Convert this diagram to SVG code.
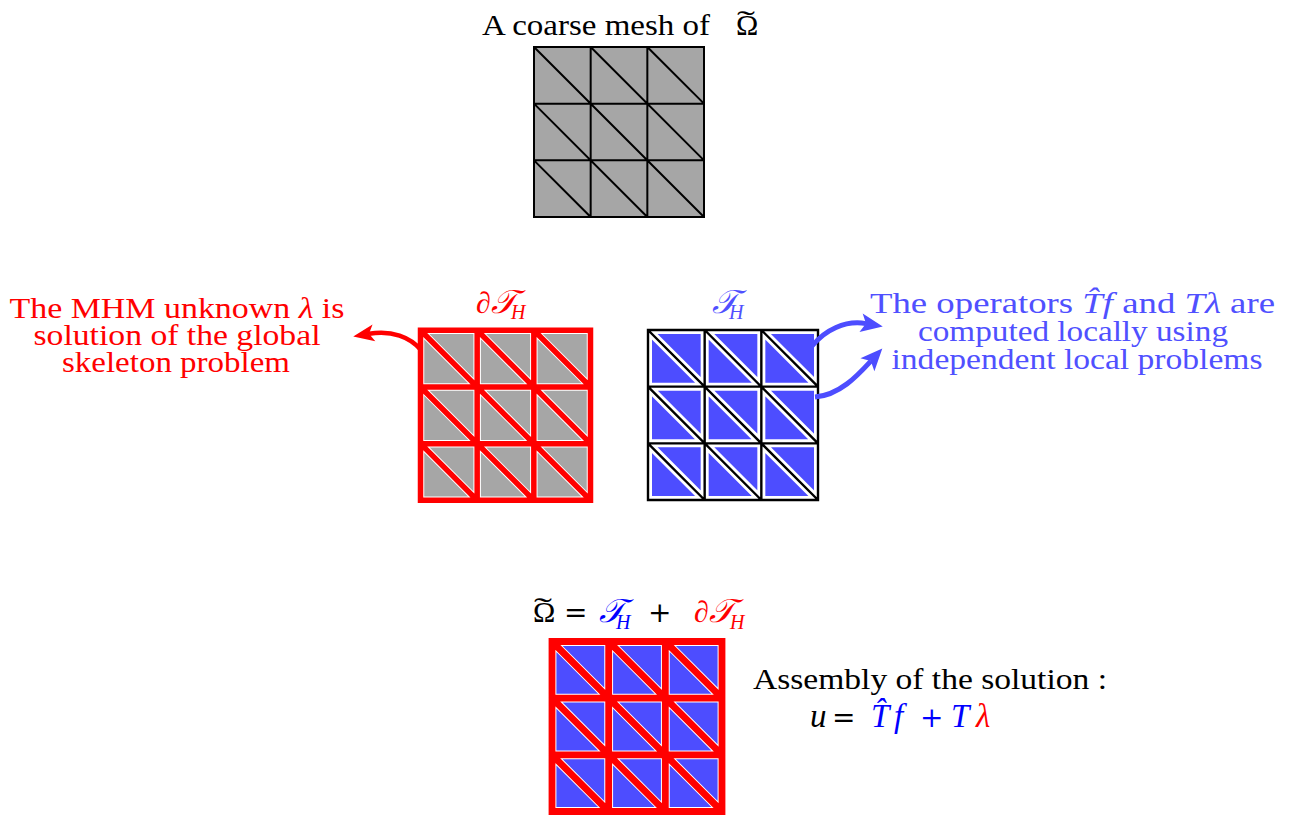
<svg xmlns="http://www.w3.org/2000/svg" width="1293" height="821" viewBox="0 0 1293 821">
<style>
text{font-family:"Liberation Serif",serif;font-size:30px;fill:#000}
.it{font-style:italic}
.red{fill:#ff0000}
.lb{fill:#5050ff}
.bl{fill:#0000ff}
.sub{font-size:20px}
.cal{font-size:33px;font-style:italic}
.op{font-family:"DejaVu Serif",serif;font-size:28px}
text.eq{font-size:33px}
.gk{fill:none;stroke:#000;stroke-width:2}
.w1{fill:none;stroke:#fff;stroke-width:7.5}
.r1{fill:none;stroke:#ff0000;stroke-width:5.5}
.w2{fill:none;stroke:#fff;stroke-width:8}
.k2{fill:none;stroke:#000;stroke-width:2.4}
.w3{fill:none;stroke:#fff;stroke-width:8.8}
.r3{fill:none;stroke:#ff0000;stroke-width:6.8}
.gray{fill:#a6a6a6}
.blue{fill:#4d4dff}
.arr-r{fill:none;stroke:#ff0000;stroke-width:4.5}
.arr-b{fill:none;stroke:#4d4dff;stroke-width:5}
</style>
<defs>
<path id="grid" d="M0,0H170V170H0Z M56.667,0V170 M113.333,0V170 M0,56.667H170 M0,113.333H170 M0,0L170,170 M56.667,0L170,113.333 M113.333,0L170,56.667 M0,56.667L113.333,170 M0,113.333L56.667,170"/>
<marker id="ahr" viewBox="-8 -10 26 20" refX="0" refY="0" markerWidth="26" markerHeight="20" markerUnits="userSpaceOnUse" orient="auto"><path d="M16,0 L-5,-8.5 L0,0 L-5,8.5 Z" fill="#ff0000"/></marker>
<marker id="ahb" viewBox="-8 -11 28 22" refX="0" refY="0" markerWidth="28" markerHeight="22" markerUnits="userSpaceOnUse" orient="auto"><path d="M17,0 L-5,-9.5 L0,0 L-5,9.5 Z" fill="#4d4dff"/></marker>
</defs>

<g id="coarse-mesh">
<text x="482" y="35" textLength="228" lengthAdjust="spacingAndGlyphs">A coarse mesh of</text>
<text x="736" y="35">Ω</text>
<text x="737" y="31" textLength="18" lengthAdjust="spacingAndGlyphs">˜</text>
<g transform="translate(534,47)"><rect width="170" height="170" class="gray"/><use href="#grid" class="gk"/></g>
</g>

<g id="skeleton-mesh">
<text y="313" class="red"><tspan x="476" class="it">∂</tspan><tspan x="491" class="cal">𝒯</tspan><tspan x="511" class="sub it" y="319">H</tspan></text>
<g transform="translate(420.5,330.3)"><rect width="170" height="170" class="gray"/><use href="#grid" class="w1"/><use href="#grid" class="r1"/></g>
</g>

<g id="local-mesh">
<text y="313" class="lb"><tspan x="712" class="cal">𝒯</tspan><tspan x="729" class="sub it" y="319">H</tspan></text>
<g transform="translate(648,330)"><rect width="170" height="170" class="blue"/><use href="#grid" class="w2"/><use href="#grid" class="k2"/></g>
</g>

<g id="global-note" class="red">
<text x="177" y="318" text-anchor="middle" textLength="335" lengthAdjust="spacingAndGlyphs" class="red">The MHM unknown <tspan class="it">λ</tspan> is</text>
<text x="177" y="345" text-anchor="middle" textLength="287" lengthAdjust="spacingAndGlyphs" class="red">solution of the global</text>
<text x="176" y="372" text-anchor="middle" textLength="228" lengthAdjust="spacingAndGlyphs" class="red">skeleton problem</text>
</g>

<g id="local-note">
<text x="870" y="313" textLength="405" lengthAdjust="spacingAndGlyphs" class="lb">The operators <tspan class="it">T̂f</tspan> and <tspan class="it">Tλ</tspan> are</text>
<text x="1073" y="341" text-anchor="middle" textLength="310" lengthAdjust="spacingAndGlyphs" class="lb">computed locally using</text>
<text x="1077" y="369" text-anchor="middle" textLength="371" lengthAdjust="spacingAndGlyphs" class="lb">independent local problems</text>
</g>

<g id="assembled-mesh">
<text y="622"><tspan x="533">Ω</tspan><tspan x="564" class="op">=</tspan><tspan x="599" class="bl cal">𝒯</tspan><tspan x="616" y="629" class="bl sub it">H</tspan><tspan x="648" y="622" class="op">+</tspan><tspan x="694" class="red it">∂</tspan><tspan x="709" class="red cal">𝒯</tspan><tspan x="730" y="629" class="red sub it">H</tspan></text>
<text x="534" y="618" textLength="18" lengthAdjust="spacingAndGlyphs">˜</text>
<g transform="translate(552,641.5)"><rect width="170" height="170" class="blue"/><use href="#grid" class="w3"/><use href="#grid" class="r3"/></g>
</g>

<g id="assembly-note">
<text x="753" y="689" textLength="354" lengthAdjust="spacingAndGlyphs">Assembly of the solution :</text>
<text y="727" class="eq"><tspan x="810" class="it">u</tspan><tspan x="832" class="op">=</tspan><tspan x="871" class="bl it">T̂</tspan><tspan x="894" class="bl it">f</tspan><tspan x="920" class="bl op">+</tspan><tspan x="951" class="bl it">T</tspan><tspan x="976" class="red it">λ</tspan></text>
</g>

<g id="connectors">
<path class="arr-r" d="M421,350 C410,337 392,330 369,333.8" marker-end="url(#ahr)"/>
<path class="arr-b" d="M812,346 C825,330 845,320 866,323.6" marker-end="url(#ahb)"/>
<path class="arr-b" d="M815,397 C840,395 858,375 870.8,361.1" marker-end="url(#ahb)"/>
</g>
</svg>
